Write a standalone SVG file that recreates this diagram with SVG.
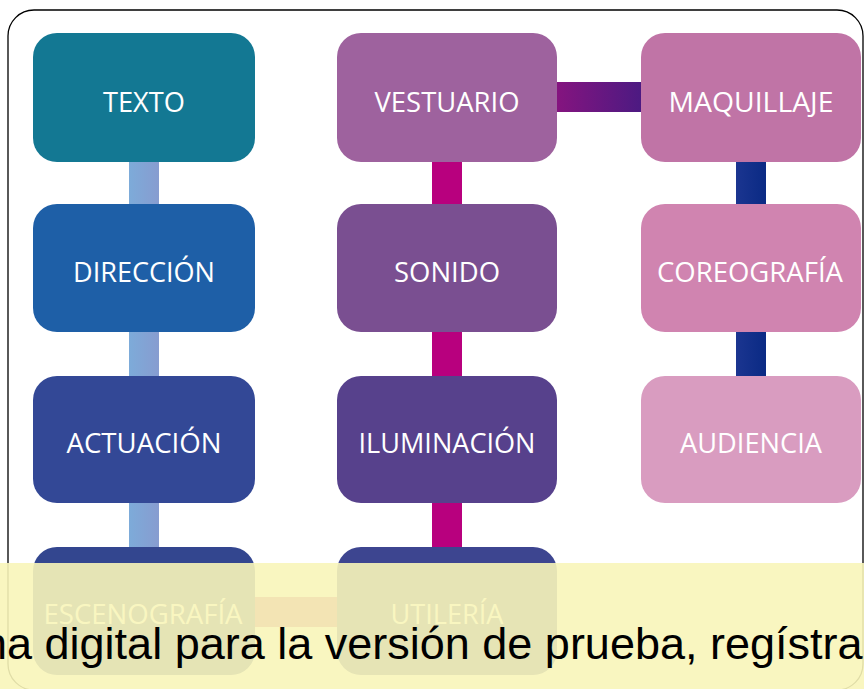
<svg xmlns="http://www.w3.org/2000/svg" width="864" height="689" viewBox="0 0 864 689">
  <defs>
    <style>
      .box { stroke: none; }
      .lbl { font-family: "Open Sans", "Liberation Sans", sans-serif; font-size: 27px; fill: #ffffff; text-anchor: middle; }
      .wm { font-family: "Liberation Sans", Arial, sans-serif; font-size: 45px; fill: #000000; }
    </style>
    <linearGradient id="gBlue" x1="0" y1="0" x2="1" y2="0">
      <stop offset="0" stop-color="#7dabd9"/>
      <stop offset="1" stop-color="#879cd0"/>
    </linearGradient>
    <linearGradient id="gNavy" x1="0" y1="0" x2="1" y2="0">
      <stop offset="0" stop-color="#1b3590"/>
      <stop offset="1" stop-color="#0a2a84"/>
    </linearGradient>
    <linearGradient id="gPurple" x1="0" y1="0" x2="1" y2="0">
      <stop offset="0" stop-color="#86147f"/>
      <stop offset="1" stop-color="#4b1a82"/>
    </linearGradient>
  </defs>

  <rect width="864" height="689" fill="#ffffff"/>
  <rect x="8" y="10" width="855" height="680" rx="26" fill="none" stroke="#000000" stroke-width="1.3"/>

  <g id="connectors">
    <rect x="129" y="160" width="30" height="46" fill="url(#gBlue)"/>
    <rect x="129" y="330" width="30" height="48" fill="url(#gBlue)"/>
    <rect x="129" y="501" width="30" height="48" fill="url(#gBlue)"/>
    <rect x="432" y="160" width="30" height="46" fill="#b8007e"/>
    <rect x="432" y="330" width="30" height="48" fill="#b8007e"/>
    <rect x="432" y="501" width="30" height="48" fill="#b8007e"/>
    <rect x="736" y="160" width="30" height="46" fill="url(#gNavy)"/>
    <rect x="736" y="330" width="30" height="48" fill="url(#gNavy)"/>
    <rect x="555" y="82" width="88" height="30" fill="url(#gPurple)"/>
    <rect x="253" y="597" width="86" height="30" fill="#c04a80"/>
  </g>

  <g id="texto">
    <rect class="box" x="33" y="33" width="222" height="129" rx="24" fill="#137893"/>
    <text class="lbl" x="144" y="112" textLength="82" lengthAdjust="spacingAndGlyphs">TEXTO</text>
  </g>
  <g id="direccion">
    <rect class="box" x="33" y="204" width="222" height="128" rx="24" fill="#1e5fa7"/>
    <text class="lbl" x="144" y="282" textLength="142" lengthAdjust="spacingAndGlyphs">DIRECCIÓN</text>
  </g>
  <g id="actuacion">
    <rect class="box" x="33" y="376" width="222" height="127" rx="24" fill="#334896"/>
    <text class="lbl" x="144" y="453" textLength="155" lengthAdjust="spacingAndGlyphs">ACTUACIÓN</text>
  </g>
  <g id="escenografia">
    <rect class="box" x="33" y="547" width="222" height="128" rx="24" fill="#33468f"/>
    <text class="lbl" x="143" y="624" textLength="199" lengthAdjust="spacingAndGlyphs">ESCENOGRAFÍA</text>
  </g>

  <g id="vestuario">
    <rect class="box" x="337" y="33" width="220" height="129" rx="24" fill="#9e629e"/>
    <text class="lbl" x="447" y="112" textLength="145" lengthAdjust="spacingAndGlyphs">VESTUARIO</text>
  </g>
  <g id="sonido">
    <rect class="box" x="337" y="204" width="220" height="128" rx="24" fill="#7a4f91"/>
    <text class="lbl" x="447" y="282" textLength="106" lengthAdjust="spacingAndGlyphs">SONIDO</text>
  </g>
  <g id="iluminacion">
    <rect class="box" x="337" y="376" width="220" height="127" rx="24" fill="#57418c"/>
    <text class="lbl" x="447" y="453" textLength="177" lengthAdjust="spacingAndGlyphs">ILUMINACIÓN</text>
  </g>
  <g id="utileria">
    <rect class="box" x="337" y="547" width="220" height="128" rx="24" fill="#3d4590"/>
    <text class="lbl" x="447" y="624" textLength="113" lengthAdjust="spacingAndGlyphs">UTILERÍA</text>
  </g>

  <g id="maquillaje">
    <rect class="box" x="641" y="33" width="220" height="129" rx="24" fill="#c074a6"/>
    <text class="lbl" x="751" y="112" textLength="165" lengthAdjust="spacingAndGlyphs">MAQUILLAJE</text>
  </g>
  <g id="coreografia">
    <rect class="box" x="641" y="204" width="220" height="128" rx="24" fill="#d084b0"/>
    <text class="lbl" x="750" y="282" textLength="186" lengthAdjust="spacingAndGlyphs">COREOGRAFÍA</text>
  </g>
  <g id="audiencia">
    <rect class="box" x="641" y="376" width="220" height="127" rx="24" fill="#d99cc0"/>
    <text class="lbl" x="751" y="453" textLength="142" lengthAdjust="spacingAndGlyphs">AUDIENCIA</text>
  </g>

  <g id="watermark">
    <rect x="0" y="563" width="864" height="126" fill="#f8f5b9" fill-opacity="0.9"/>
    <text class="wm" x="-18" y="659">na digital para la versión de prueba, regístra</text>
  </g>
</svg>
